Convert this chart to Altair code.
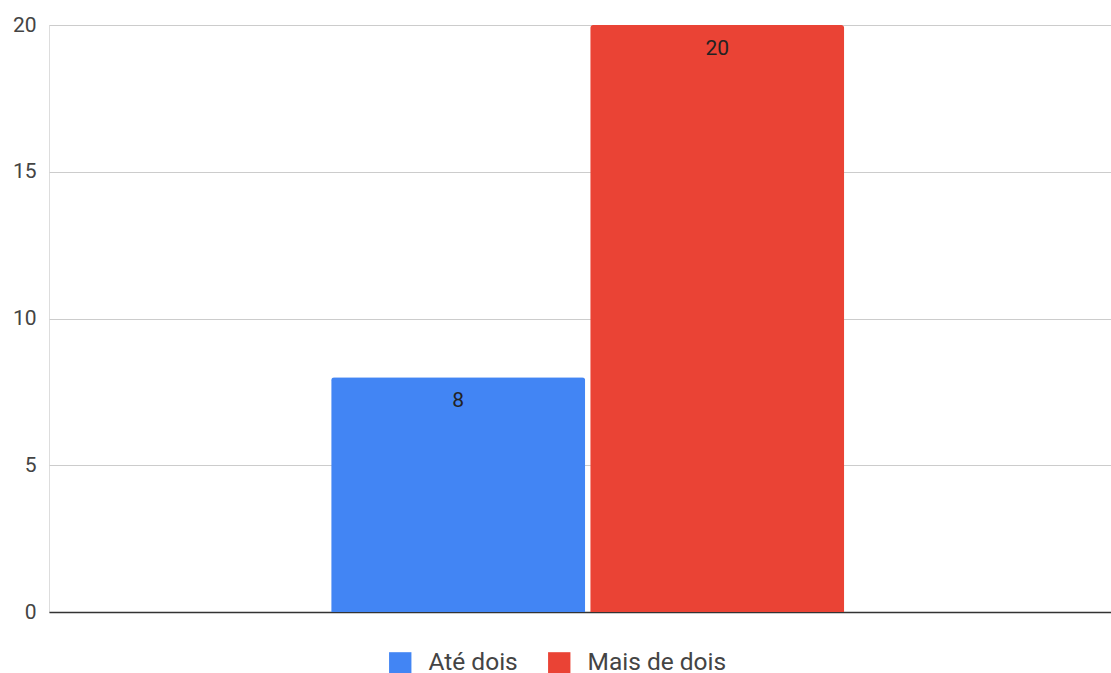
import altair as alt
import pandas as pd

series = ["Até dois", "Mais de dois"]
values = [8, 20]
colors = ["#4285F4", "#EA4335"]
y_ticks = [0, 5, 10, 15, 20]

df = pd.DataFrame({"grupo": ["g", "g"], "serie": series, "valor": values})

x_enc = alt.X(
    "grupo:N",
    scale=alt.Scale(paddingInner=0, paddingOuter=0.535, align=0.514),
    axis=alt.Axis(labels=False, ticks=False, title=None, domain=True,
                  domainColor="#333333", domainWidth=1.5, grid=False),
)
xoff_enc = alt.XOffset(
    "serie:N", sort=series,
    scale=alt.Scale(paddingInner=0.0193, paddingOuter=0),
)
y_enc = alt.Y(
    "valor:Q",
    scale=alt.Scale(domain=[0, 20], nice=False),
    axis=alt.Axis(values=y_ticks, title=None, domain=False, ticks=False,
                  labelPadding=13, labelFontSize=21, labelColor="#444444",
                  labelFont="Roboto", gridColor="#cccccc", gridWidth=1),
)

bars = alt.Chart(df).mark_bar(
    cornerRadiusTopLeft=3, cornerRadiusTopRight=3
).encode(
    x=x_enc,
    xOffset=xoff_enc,
    y=y_enc,
    color=alt.Color(
        "serie:N",
        sort=series,
        scale=alt.Scale(domain=series, range=colors),
        legend=alt.Legend(
            title=None, orient="none", direction="horizontal",
            legendX=339, legendY=626,
            symbolType="square", symbolSize=500, symbolStrokeWidth=0,
            symbolOpacity=1, labelFont="Roboto", labelFontSize=24.5,
            labelColor="#444444", labelOffset=16, columnPadding=29,
        ),
    ),
)

labels = alt.Chart(df).mark_text(
    baseline="middle", align="center", dy=24, font="Roboto",
    fontSize=21, color="#222222"
).encode(
    x=alt.X("grupo:N"),
    xOffset=alt.XOffset("serie:N", sort=series),
    y=alt.Y("valor:Q"),
    text=alt.Text("valor:Q"),
)

chart = alt.layer(bars, labels).properties(
    width=1062, height=587,
    autosize=alt.AutoSizeParams(type="none"),
    padding={"left": 49, "top": 25, "right": 0, "bottom": 61},
).configure_view(stroke=None).configure(background="white")

chart.save("out.html", embed_options={"renderer": "svg", "actions": False})
